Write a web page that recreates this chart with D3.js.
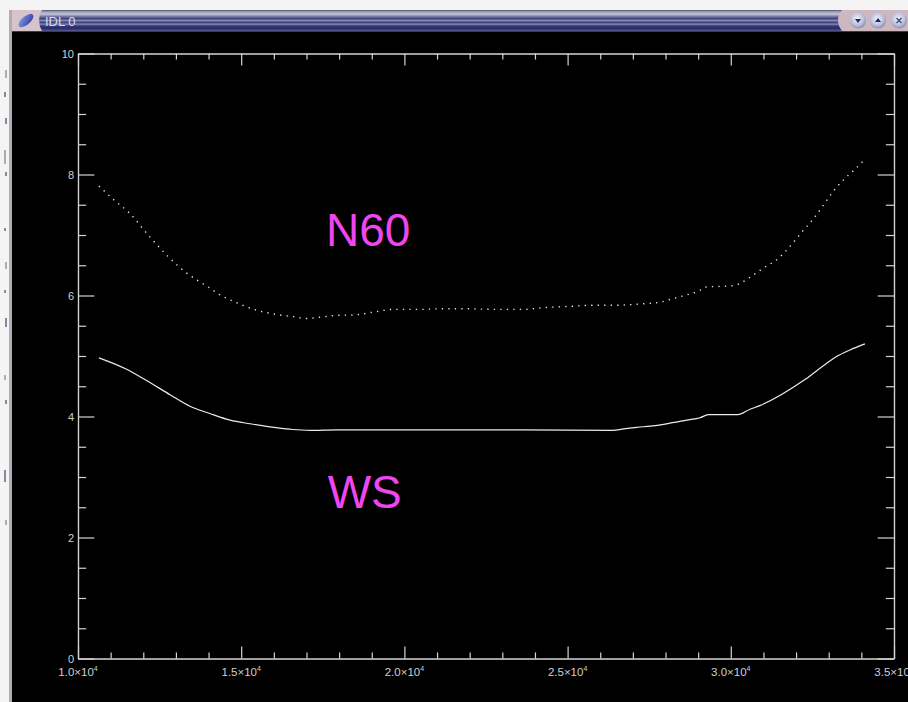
<!DOCTYPE html>
<html>
<head>
<meta charset="utf-8">
<script src="https://cdn.jsdelivr.net/npm/d3@7"></script>
<style>
  html, body { margin: 0; padding: 0; background: #f4f4f4; }
  svg { display: block; -webkit-font-smoothing: antialiased; }
</style>
</head>
<body>
<script>
// Wavenumber-like abscissa and the two profiles
const n60X = [10640, 11080, 11580, 12150, 12750, 13330, 13690, 13990, 14320, 14860, 15450, 16040, 16600, 17010, 17410, 17870, 18490, 19100, 19660, 20480, 21090, 21910, 22830, 23640, 24260, 25070, 25840, 26610, 27220, 27830, 28240, 28650, 29040, 29230, 29620, 30030, 30360, 30530, 30990, 31450, 31780, 32210, 32520, 32820, 33120, 33430, 33750, 34110];
const n60Y = [7.81, 7.59, 7.36, 7.00, 6.65, 6.37, 6.24, 6.14, 6.02, 5.88, 5.76, 5.69, 5.65, 5.62, 5.64, 5.67, 5.68, 5.73, 5.77, 5.77, 5.78, 5.78, 5.77, 5.77, 5.80, 5.82, 5.84, 5.84, 5.86, 5.89, 5.95, 6.01, 6.08, 6.14, 6.15, 6.16, 6.22, 6.28, 6.45, 6.61, 6.79, 7.07, 7.26, 7.48, 7.71, 7.90, 8.06, 8.25];

const wsX = [10640, 11490, 12110, 12820, 13430, 14040, 14660, 15270, 15880, 16500, 17110, 17930, 23570, 26370, 26780, 27120, 27680, 28140, 28650, 29060, 29310, 30210, 30590, 30890, 32270, 32940, 33240, 33650, 34110];
const wsY = [4.97, 4.78, 4.59, 4.36, 4.17, 4.05, 3.94, 3.88, 3.83, 3.79, 3.77, 3.78, 3.78, 3.77, 3.80, 3.82, 3.85, 3.89, 3.94, 3.98, 4.03, 4.03, 4.12, 4.18, 4.61, 4.88, 4.99, 5.10, 5.20];

const xMajor = [10000, 15000, 20000, 25000, 30000, 35000];
const xMajorLabels = ["1.0", "1.5", "2.0", "2.5", "3.0", "3.5"];
const yMajor = [0, 2, 4, 6, 8, 10];
const yMajorLabels = ["0", "2", "4", "6", "8", "10"];

const seriesLabels = [
  { text: "N60", x: 17600, y: 6.82 },
  { text: "WS", x: 17650, y: 2.49 }
];

const W = 908, H = 702;
const svg = d3.select("body").append("svg").attr("width", W).attr("height", H);
const defs = svg.append("defs");

// ---------- window frame ----------
svg.append("rect").attr("x", 0).attr("y", 0).attr("width", W).attr("height", H).attr("fill", "#f4f4f4");
// scraps of the desktop behind the window on the left edge
[[70, 8], [92, 5], [118, 6], [150, 14], [172, 4], [228, 3], [262, 7], [290, 3], [318, 9], [375, 5], [400, 4], [470, 12], [520, 5]].forEach(([yy, hh], i) => {
  svg.append("rect").attr("x", i % 2 ? 4 : 5).attr("y", yy).attr("width", 2).attr("height", hh)
    .attr("fill", i % 3 ? "#6a6c8e" : "#9a9aa8").attr("opacity", 0.8);
});
svg.append("rect").attr("x", 9).attr("y", 10).attr("width", 3).attr("height", H - 10).attr("fill", "#b4aab0");
svg.append("rect").attr("x", 12).attr("y", 31).attr("width", W - 12).attr("height", H - 31).attr("fill", "#000");
svg.append("rect").attr("x", 12).attr("y", 30.5).attr("width", W - 12).attr("height", 1.5).attr("fill", "#5a3040");

// title bar
const tg = defs.append("linearGradient").attr("id", "titleGrad").attr("x1", 0).attr("y1", 0).attr("x2", 0).attr("y2", 1);
[[0, "#50506a"], [0.08, "#9c9cb8"], [0.2, "#c4c4dc"], [0.3, "#7a7ca8"], [0.42, "#3c3e7c"], [0.5, "#8a8cb8"],
 [0.58, "#3a3c78"], [0.68, "#8082b0"], [0.76, "#34367a"], [0.88, "#2a2c6c"], [1, "#5a5c8c"]].forEach(([o, c]) =>
  tg.append("stop").attr("offset", o).attr("stop-color", c));
svg.append("rect").attr("x", 12).attr("y", 10).attr("width", 830).attr("height", 21).attr("fill", "url(#titleGrad)");

// left cap with the application icon
svg.append("path").attr("d", "M12,10 H42 Q36,20 42,31 H12 Z").attr("fill", "#d6c4cc");
const ig = defs.append("linearGradient").attr("id", "iconGrad").attr("x1", 0).attr("y1", 0).attr("x2", 1).attr("y2", 1);
ig.append("stop").attr("offset", 0).attr("stop-color", "#8a9ae8");
ig.append("stop").attr("offset", 1).attr("stop-color", "#2a3aa0");
svg.append("ellipse").attr("cx", 26).attr("cy", 20.5).attr("rx", 9).attr("ry", 4.2)
  .attr("transform", "rotate(-40 26 20.5)").attr("fill", "url(#iconGrad)");
svg.append("text").attr("x", 45).attr("y", 26).attr("font-family", "Liberation Sans, Arial, sans-serif")
  .attr("font-size", 13).attr("fill", "#d8dcf0").text("IDL 0");

// right cap with the window buttons
svg.append("path").attr("d", "M842,10 H908 V31 H842 Q834,20 842,10 Z").attr("fill", "#cdb8c0");
const bg = defs.append("radialGradient").attr("id", "btnGrad").attr("cx", 0.45).attr("cy", 0.4).attr("r", 0.6);
bg.append("stop").attr("offset", 0).attr("stop-color", "#f4f4fc");
bg.append("stop").attr("offset", 0.7).attr("stop-color", "#b8bcd8");
bg.append("stop").attr("offset", 1).attr("stop-color", "#8a8eb0");
[858, 878, 899].forEach((cx, i) => {
  svg.append("circle").attr("cx", cx).attr("cy", 20.5).attr("r", 8).attr("fill", "url(#btnGrad)");
  let d;
  if (i === 0) d = `M${cx - 3},${19} H${cx + 3} L${cx},${23} Z`;
  else if (i === 1) d = `M${cx - 3},${22} H${cx + 3} L${cx},${18} Z`;
  else d = null;
  if (d) svg.append("path").attr("d", d).attr("fill", "#202460");
  else svg.append("path").attr("d", `M${cx - 2.5},18 L${cx + 2.5},23 M${cx + 2.5},18 L${cx - 2.5},23`)
    .attr("stroke", "#404470").attr("stroke-width", 1.3);
});

// ---------- plot ----------
const plotL = 78, plotR = 894, plotT = 53.5, plotB = 658.5;
const x = d3.scaleLinear().domain([10000, 35000]).range([plotL, plotR]);
const y = d3.scaleLinear().domain([0, 10]).range([plotB, plotT]);

const axisColor = "#d4d4d4";
const tickFont = "Liberation Sans, Arial, sans-serif";

// IDL-style tick lengths: 2% of the plot size, minors half of that
const xTickLen = 0.02 * (plotB - plotT);
const yTickLen = 0.02 * (plotR - plotL);
const xMinor = d3.range(10000, 35001, 1000).filter(v => v % 5000 !== 0);
const yMinor = d3.range(0, 10.01, 0.5).filter(v => v % 2 !== 0);

function styleAxis(g) {
  g.selectAll("path.domain").attr("stroke", axisColor).attr("stroke-width", 1.2);
  g.selectAll(".tick line").attr("stroke", axisColor).attr("stroke-width", 1.2);
  g.selectAll(".tick text").remove();
}

// bottom and top
[[d3.axisBottom, plotB], [d3.axisTop, plotT]].forEach(([ax, pos]) => {
  svg.append("g").attr("transform", `translate(0,${pos})`)
    .call(ax(x).tickValues(xMajor).tickSizeInner(-xTickLen).tickSizeOuter(0)).call(styleAxis);
  svg.append("g").attr("transform", `translate(0,${pos})`)
    .call(ax(x).tickValues(xMinor).tickSizeInner(-xTickLen / 2).tickSizeOuter(0)).call(styleAxis);
});
// left and right
[[d3.axisLeft, plotL], [d3.axisRight, plotR]].forEach(([ax, pos]) => {
  svg.append("g").attr("transform", `translate(${pos},0)`)
    .call(ax(y).tickValues(yMajor).tickSizeInner(-yTickLen).tickSizeOuter(0)).call(styleAxis);
  svg.append("g").attr("transform", `translate(${pos},0)`)
    .call(ax(y).tickValues(yMinor).tickSizeInner(-yTickLen / 2).tickSizeOuter(0)).call(styleAxis);
});

// x tick labels of the form m.n×10^4 (the last one runs off the window edge)
const xl = svg.append("g").attr("font-family", tickFont).attr("fill", "#d0d0d0");
xMajor.forEach((v, i) => {
  const t = xl.append("text").attr("x", x(v)).attr("y", 675.5).attr("text-anchor", "middle").attr("font-size", 11.5);
  t.append("tspan").text(xMajorLabels[i] + "×10");
  t.append("tspan").attr("dy", -4.5).attr("font-size", 7).text("4");
});

// y tick labels
const yl = svg.append("g").attr("font-family", tickFont).attr("fill", "#d0d0d0");
yMajor.forEach((v, i) => {
  yl.append("text").attr("x", plotL - 4).attr("y", y(v) + 4).attr("text-anchor", "end")
    .attr("font-size", 11).text(yMajorLabels[i]);
});

// curves
const line = d3.line().x(d => x(d[0])).y(d => y(d[1])).curve(d3.curveMonotoneX);
svg.append("path").datum(n60X.map((v, i) => [v, n60Y[i]]))
  .attr("d", line).attr("fill", "none").attr("stroke", "#e6e6e6")
  .attr("stroke-width", 1.4).attr("stroke-dasharray", "1.3 5.2");
svg.append("path").datum(wsX.map((v, i) => [v, wsY[i]]))
  .attr("d", line).attr("fill", "none").attr("stroke", "#ececec").attr("stroke-width", 1.2);

// series annotations
seriesLabels.forEach(l => {
  svg.append("text").attr("x", x(l.x)).attr("y", y(l.y))
    .attr("font-family", "Liberation Sans, Arial, sans-serif").attr("font-size", 46)
    .attr("fill", "#f046f0").text(l.text);
});
</script>
</body>
</html>
